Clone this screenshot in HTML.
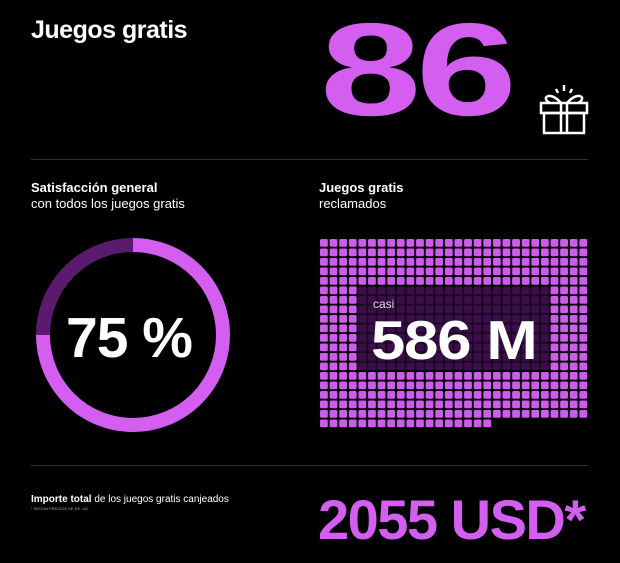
<!DOCTYPE html>
<html><head><meta charset="utf-8">
<style>
body{margin:0;background:#000;width:620px;height:563px;overflow:hidden;font-family:"Liberation Sans",sans-serif;color:#fff;position:relative}
.a{position:absolute}
.big{font-weight:bold;color:#d35ef0}
</style></head><body>
<div class="a" style="left:31px;top:16px;font-size:25px;font-weight:bold;letter-spacing:-0.5px">Juegos gratis</div>
<div class="a big" style="left:320px;top:4px;font-size:132px;line-height:132px;letter-spacing:-4px;transform:scaleX(1.38);transform-origin:0 0">86</div>
<svg class="a" style="left:530px;top:80px" width="70" height="60" viewBox="0 0 70 60" fill="none" stroke="#fff" stroke-width="2.5">
<rect x="11" y="23" width="46" height="10"/><rect x="14" y="33" width="40" height="20"/>
<line x1="31" y1="23" x2="31" y2="53"/><line x1="37" y1="23" x2="37" y2="53"/>
<path d="M31 23 C20 10 10 18 20 23"/><path d="M37 23 C48 10 58 18 48 23"/>
<line x1="34" y1="5" x2="34" y2="11"/><line x1="26" y1="9" x2="28" y2="13"/><line x1="42" y1="9" x2="40" y2="13"/>
</svg>
<div class="a" style="left:31px;top:159px;width:557px;height:1px;background:#333"></div>
<div class="a" style="left:31px;top:180px;font-size:13px;line-height:16px"><b>Satisfacción general</b><br>con todos los juegos gratis</div>
<div class="a" style="left:319px;top:180px;font-size:13px;line-height:16px"><b>Juegos gratis</b><br>reclamados</div>
<svg class="a" id="donut" style="left:0;top:230px" width="270" height="220"></svg>
<div class="a" style="left:66px;top:305px;font-size:57px;font-weight:bold;letter-spacing:-1px">75 %</div>
<svg class="a" id="grid" style="left:0;top:0" width="620" height="470"></svg>
<div class="a" style="left:373px;top:297px;font-size:12px;color:#ddd">casi</div>
<div class="a" style="left:371px;top:308px;font-size:55px;font-weight:bold;letter-spacing:-1px;transform:scaleX(1.12);transform-origin:0 0">586 M</div>
<div class="a" style="left:31px;top:465px;width:557px;height:1px;background:#333"></div>
<div class="a" style="left:31px;top:494px;font-size:10px"><b>Importe total</b> de los juegos gratis canjeados</div>
<div class="a" style="left:31px;top:506px;font-size:4px;color:#aaa">* SEGÚN PRECIOS DE EE. UU.</div>
<div class="a big" style="left:318px;top:490px;font-size:56px;line-height:60px;letter-spacing:-1.5px">2055 USD*</div>
<script>
const satisfactionPct = [75];
const gridCols = [28];
const gridRows = [20];
const lastRowCells = [18];
const NS="http://www.w3.org/2000/svg";
const d=document.getElementById('donut');
const cx=133,cy=105,r=90,sw=14;
function arc(p0,p1,col,name){
  const a0=p0/100*2*Math.PI-Math.PI/2,a1=p1/100*2*Math.PI-Math.PI/2;
  const x0=cx+r*Math.cos(a0),y0=cy+r*Math.sin(a0),x1=cx+r*Math.cos(a1),y1=cy+r*Math.sin(a1);
  const p=document.createElementNS(NS,'path');
  p.setAttribute('d',`M${x0} ${y0} A${r} ${r} 0 ${(p1-p0)>50?1:0} 1 ${x1} ${y1}`);
  p.setAttribute('stroke',col);p.setAttribute('stroke-width',sw);p.setAttribute('fill','none');
  
  
  d.appendChild(p);
}
arc(satisfactionPct[0],99.99,'#5a1a6e','donut-remainder');
arc(0,satisfactionPct[0],'#d35ef0','donut-satisfied');
const g=document.getElementById('grid');
const gx=320,gy=239,pitch=269/gridCols[0],py=190/gridRows[0];
const box={x0:358,x1:549,y0:288,y1:370};
const bg=document.createElementNS(NS,'rect');
bg.setAttribute('x',box.x0);bg.setAttribute('y',box.y0);bg.setAttribute('width',box.x1-box.x0);bg.setAttribute('height',box.y1-box.y0);bg.setAttribute('fill','#1e0626');


g.appendChild(bg);
for(let rI=0;rI<gridRows[0];rI++){
  const n=rI===gridRows[0]-1?lastRowCells[0]:gridCols[0];
  for(let c=0;c<n;c++){
    const x=gx+c*pitch,y=gy+rI*py;
    const inside=x+4>box.x0&&x+4<box.x1&&y+4>box.y0&&y+4<box.y1;
    const e=document.createElementNS(NS,'rect');
    e.setAttribute('x',x);e.setAttribute('y',y);e.setAttribute('width',pitch-1.8);e.setAttribute('height',py-1.8);e.setAttribute('rx',1.5);
    e.setAttribute('fill',inside?'#3a0f48':'#cd5ced');
    
    
    g.appendChild(e);
  }
}
</script>
</body></html>
